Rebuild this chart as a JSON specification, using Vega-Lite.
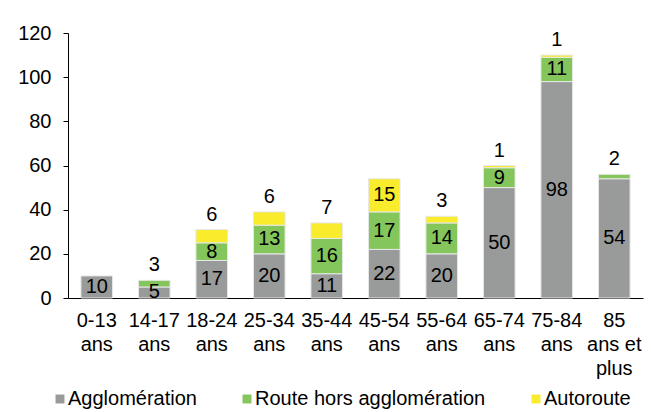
{
  "$schema": "https://vega.github.io/schema/vega-lite/v6.json",
  "autosize": "none",
  "width": 575,
  "height": 265,
  "padding": {"left": 68, "top": 33, "right": 8, "bottom": 114},
  "background": "white",
  "config": {
    "font": "Liberation Sans",
    "view": {"stroke": null},
    "axis": {"labelFont": "Liberation Sans", "labelColor": "black", "domainColor": "black", "tickColor": "black", "grid": false, "labelFontSize": 20}
  },
  "data": {
    "values": [
      {"age": "0-13 ans", "type": "Agglomération", "n": 10},
      {"age": "14-17 ans", "type": "Agglomération", "n": 5},
      {"age": "14-17 ans", "type": "Route hors agglomération", "n": 3},
      {"age": "18-24 ans", "type": "Agglomération", "n": 17},
      {"age": "18-24 ans", "type": "Route hors agglomération", "n": 8},
      {"age": "18-24 ans", "type": "Autoroute", "n": 6},
      {"age": "25-34 ans", "type": "Agglomération", "n": 20},
      {"age": "25-34 ans", "type": "Route hors agglomération", "n": 13},
      {"age": "25-34 ans", "type": "Autoroute", "n": 6},
      {"age": "35-44 ans", "type": "Agglomération", "n": 11},
      {"age": "35-44 ans", "type": "Route hors agglomération", "n": 16},
      {"age": "35-44 ans", "type": "Autoroute", "n": 7},
      {"age": "45-54 ans", "type": "Agglomération", "n": 22},
      {"age": "45-54 ans", "type": "Route hors agglomération", "n": 17},
      {"age": "45-54 ans", "type": "Autoroute", "n": 15},
      {"age": "55-64 ans", "type": "Agglomération", "n": 20},
      {"age": "55-64 ans", "type": "Route hors agglomération", "n": 14},
      {"age": "55-64 ans", "type": "Autoroute", "n": 3},
      {"age": "65-74 ans", "type": "Agglomération", "n": 50},
      {"age": "65-74 ans", "type": "Route hors agglomération", "n": 9},
      {"age": "65-74 ans", "type": "Autoroute", "n": 1},
      {"age": "75-84 ans", "type": "Agglomération", "n": 98},
      {"age": "75-84 ans", "type": "Route hors agglomération", "n": 11},
      {"age": "75-84 ans", "type": "Autoroute", "n": 1},
      {"age": "85 ans et plus", "type": "Agglomération", "n": 54},
      {"age": "85 ans et plus", "type": "Route hors agglomération", "n": 2}
    ]
  },
  "transform": [
    {"calculate": "indexof(['Agglomération','Route hors agglomération','Autoroute'], datum.type)", "as": "ordre"},
    {"stack": "n", "groupby": ["age"], "sort": [{"field": "ordre", "order": "ascending"}], "as": ["y0", "y1"]},
    {"joinaggregate": [{"op": "max", "field": "y1", "as": "top"}], "groupby": ["age"]},
    {"calculate": "datum.y1 == datum.top && datum.n < 10 && datum.type != 'Agglomération'", "as": "above"},
    {"calculate": "(datum.y0 + datum.y1) / 2", "as": "mid"}
  ],
  "encoding": {
    "x": {
      "field": "age", "type": "nominal", "sort": null,
      "scale": {"paddingInner": 0.45, "paddingOuter": 0.225},
      "axis": {
        "title": null, "labelAngle": 0, "ticks": false, "labelPadding": 12, "labelLineHeight": 24,
        "labelExpr": "datum.label == '85 ans et plus' ? ['85', 'ans et', 'plus'] : split(datum.label, ' ')"
      }
    }
  },
  "layer": [
    {
      "mark": {"type": "bar", "stroke": "#e8e8e8", "strokeWidth": 1},
      "encoding": {
        "y": {"field": "y0", "type": "quantitative", "scale": {"domain": [0, 120]},
          "axis": {"title": null, "values": [0, 20, 40, 60, 80, 100, 120], "tickSize": 5, "labelPadding": 12}},
        "y2": {"field": "y1"},
        "color": {
          "field": "type", "type": "nominal",
          "scale": {"domain": ["Agglomération", "Route hors agglomération", "Autoroute"], "range": ["#989b9a", "#84c65c", "#f8ec2c"]},
          "legend": {
            "title": null, "orient": "none", "direction": "horizontal", "legendX": -18, "legendY": 356,
            "symbolType": "square", "symbolSize": 80, "symbolStrokeWidth": 0, "labelFontSize": 20, "labelFont": "Liberation Sans",
            "labelColor": "black", "columnPadding": 40, "labelOffset": -2, "labelLimit": 0
          }
        }
      }
    },
    {
      "transform": [{"filter": "!datum.above"}],
      "mark": {"type": "text", "fontSize": 20, "color": "black", "baseline": "middle"},
      "encoding": {
        "y": {"field": "mid", "type": "quantitative"},
        "text": {"field": "n", "type": "quantitative"}
      }
    },
    {
      "transform": [{"filter": "datum.above"}],
      "mark": {"type": "text", "fontSize": 20, "color": "black", "baseline": "bottom", "dy": -5},
      "encoding": {
        "y": {"field": "y1", "type": "quantitative"},
        "text": {"field": "n", "type": "quantitative"}
      }
    }
  ]
}
